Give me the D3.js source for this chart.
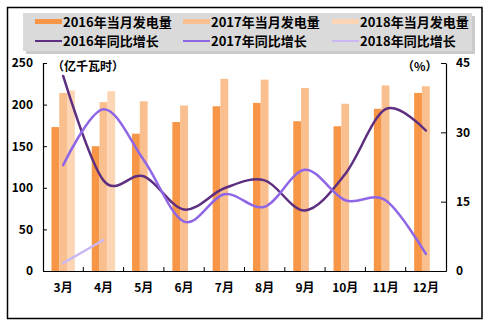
<!DOCTYPE html>
<html><head><meta charset="utf-8">
<script src="https://cdn.jsdelivr.net/npm/d3@7"></script>
<style>body{margin:0;background:#fff}svg{display:block}text{font-family:"Noto Sans CJK SC","DejaVu Sans",sans-serif;font-weight:bold;fill:#000}</style>
</head><body><svg id="c" width="490" height="327"></svg>
<script>
const months = ["3月","4月","5月","6月","7月","8月","9月","10月","11月","12月"];
const gen2016 = [173,150,165,179,198,202,180,174,195,214];
const gen2017 = [214,203,204,199,231,230,220,201,223,222];
const gen2018 = [217,216];
const yoy2016 = [42.2,19.6,20.5,13.3,17.9,19.6,13.1,21.0,35.0,30.4];
const yoy2017 = [22.9,35.0,24.0,10.7,16.6,13.9,21.9,15.3,15.3,3.7];
const yoy2018 = [1.7,6.7];
const leftTicks = [0,50,100,150,200,250];
const rightTicks = [0,15,30,45];
const barNames = ["2016年当月发电量","2017年当月发电量","2018年当月发电量"];
const lineNames = ["2016年同比增长","2017年同比增长","2018年同比增长"];
const barColors = ["#f79646","#fabf8f","#fcd5b4"];
const lineColors = ["#5e2f80","#8f66e6","#cbb8f2"];

const svg = d3.select("#c");
const L=43,R=446,T=63,B=271;
const x = d3.scaleBand().domain(months).range([L,R]).padding(0);
const x1 = d3.scaleBand().domain([0,1,2]).range([x.bandwidth()/2-11.7, x.bandwidth()/2+11.7]);
const yL = d3.scaleLinear().domain([0,250]).range([B,T]);
const yR = d3.scaleLinear().domain([0,45]).range([B,T]);

// outer border
svg.append("rect").attr("x",7.5).attr("y",7.5).attr("width",474.5).attr("height",311).attr("fill","#fff").attr("stroke","#000").attr("stroke-width",1.5);

// legend
svg.append("rect").attr("x",26).attr("y",16).attr("width",449).attr("height",38).attr("fill","#a8a8a8").attr("opacity",0.6);
svg.append("rect").attr("x",23).attr("y",13).attr("width",449).attr("height",38).attr("fill","#dadada");
const colX=[35,183,332];
barNames.forEach((n,i)=>{
  svg.append("rect").attr("x",colX[i]).attr("y",19).attr("width",27).attr("height",5).attr("fill",barColors[i]);
  svg.append("text").attr("x",colX[i]+28).attr("y",26.5).attr("font-size",13).text(n);
});
lineNames.forEach((n,i)=>{
  svg.append("line").attr("x1",colX[i]).attr("x2",colX[i]+27).attr("y1",41).attr("y2",41).attr("stroke",lineColors[i]).attr("stroke-width",2);
  svg.append("text").attr("x",colX[i]+28).attr("y",45.5).attr("font-size",13).text(n);
});

// bars
const series=[gen2016,gen2017,gen2018];
series.forEach((s,si)=>{
  svg.append("g").selectAll("rect").data(s).join("rect")
    .attr("x",(d,i)=>x(months[i])+x1(si))
    .attr("width",x1.bandwidth())
    .attr("y",d=>yL(d))
    .attr("height",d=>B-yL(d))
    .attr("fill",barColors[si]);
});

// lines
const lineGen = d3.line().x((d,i)=>x(months[i])+x.bandwidth()/2).y(d=>yR(d)).curve(d3.curveCardinal.tension(0));
[yoy2016,yoy2017,yoy2018].forEach((s,si)=>{
  svg.append("path").datum(s).attr("d",lineGen).attr("fill","none").attr("stroke",lineColors[si]).attr("stroke-width",2.5).attr("stroke-linecap","round");
});

// axes
const axL = svg.append("g").attr("transform",`translate(${L},0)`).call(d3.axisLeft(yL).tickValues(leftTicks).tickSizeInner(-4).tickSizeOuter(0).tickPadding(10));
const axR = svg.append("g").attr("transform",`translate(${R},0)`).call(d3.axisRight(yR).tickValues(rightTicks).tickSizeInner(-5).tickSizeOuter(0).tickPadding(10));
const axB = svg.append("g").attr("transform",`translate(0,${B})`).call(d3.axisBottom(x).tickSize(0).tickPadding(12));
// category boundary ticks
svg.append("g").selectAll("line").data(months.slice(1)).join("line")
  .attr("x1",d=>x(d)).attr("x2",d=>x(d)).attr("y1",B-4).attr("y2",B).attr("stroke","#000");
[axL,axR,axB].forEach(a=>{a.selectAll("path").attr("stroke","#000").attr("stroke-width",1.2);a.selectAll("line").attr("stroke","#000");a.selectAll("text").attr("font-size",12).attr("font-family","'Noto Sans CJK SC',sans-serif").attr("font-weight","bold").attr("fill","#000");});
axL.selectAll("text").attr("font-family","'Liberation Sans',sans-serif");
axR.selectAll("text").attr("font-family","'Liberation Sans',sans-serif");

// unit labels
svg.append("text").attr("x",52).attr("y",71).attr("font-size",12).text("（亿千瓦时）");
svg.append("text").attr("x",402).attr("y",71).attr("font-size",12).text("（%）");
</script></body></html>
